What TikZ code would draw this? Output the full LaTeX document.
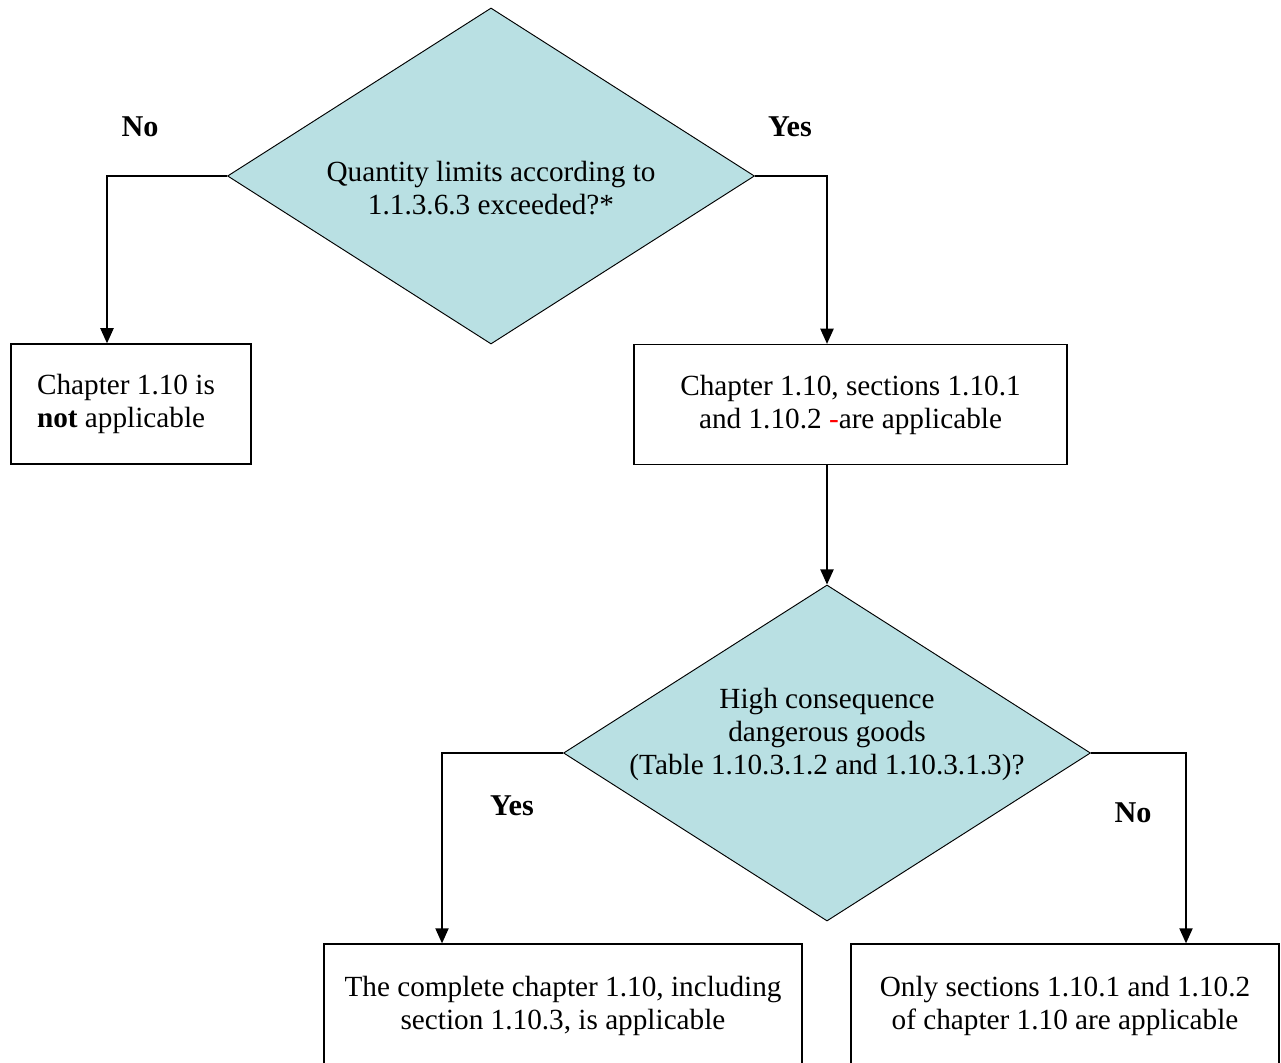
\documentclass[tikz,border=0pt]{standalone}
\usepackage{fontspec}
\setmainfont{Liberation Serif}
\usetikzlibrary{shapes.geometric,positioning,calc,arrows.meta}
\definecolor{decisionfill}{RGB}{185,224,227}

\begin{document}
\begin{tikzpicture}[x=0.53pt,y=0.53pt,on grid,
    font=\fontsize{15.5}{17.5}\selectfont,
    decision/.style={diamond,draw,line width=0.5pt,fill=decisionfill,inner sep=0pt,
      minimum width=279.3pt,minimum height=178.1pt},
    question/.style={align=center},
    outcome/.style={rectangle,draw,line width=0.7pt,inner sep=0pt,align=center},
    answer/.style={font=\fontsize{16}{18}\selectfont\bfseries},
    flow/.style={line width=0.8pt,-{Triangle[width=7pt,length=8pt]}}]
  \useasboundingbox (0,0) rectangle (1281,-1063);
  \clip (0,0) rectangle (1281,-1063);
  % decisions
  \node[decision,label={[question,yshift=-6.4pt]center:Quantity limits according to\\1.1.3.6.3 exceeded?*}] (q1) at (491,-176) {};
  \node[decision,label={[question,yshift=9.8pt]center:High consequence\\dangerous goods\\(Table 1.10.3.1.2 and 1.10.3.1.3)?}] (q2) [below right=577 and 336 of q1] {};
  % outcomes
  \node[outcome,minimum width=127.2pt,minimum height=63.6pt,text width=99.6pt,align=flush left] (b1) [below left=228 and 360 of q1] {Chapter 1.10 is\\\textbf{not} applicable};
  \node[outcome,minimum width=229.5pt,minimum height=63.6pt] (b2) [below right=228.5 and 359.5 of q1] {Chapter 1.10, sections 1.10.1\\and 1.10.2 \textcolor{red}{-}are applicable};
  \node[outcome,minimum width=253.3pt,minimum height=65.7pt] (b3) [below left=253 and 264 of q2] {The complete chapter 1.10, including\\section 1.10.3, is applicable};
  \node[outcome,minimum width=226.8pt,minimum height=65.7pt] (b4) [below right=253 and 238 of q2] {Only sections 1.10.1 and 1.10.2\\of chapter 1.10 are applicable};
  % answers
  \node[answer] (no1) [above left=49 and 351 of q1] {No};
  \node[answer] (yes1) [above right=49 and 299 of q1] {Yes};
  \node[answer] (yes2) [below left=53 and 315 of q2] {Yes};
  \node[answer] (no2) [below right=60 and 306 of q2] {No};
  % arrows
  \draw[flow] (q1.west) -| ($(b1.north)+(-24,0)$);
  \draw[flow] (q1.east) -| ($(b2.north)+(-23.5,0)$);
  \draw[flow] ($(b2.south)+(-23.5,0)$) -- (q2.north);
  \draw[flow] (q2.west) -| ($(b3.north)+(-121,0)$);
  \draw[flow] (q2.east) -| ($(b4.north)+(121,0)$);
\end{tikzpicture}
\end{document}
